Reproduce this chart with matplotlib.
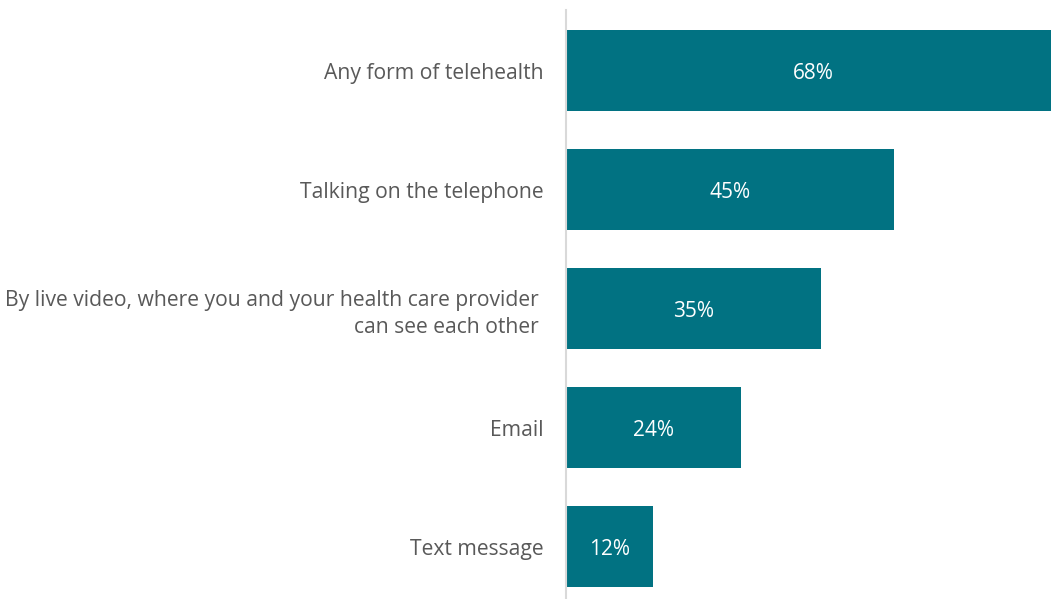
import matplotlib.pyplot as plt

plt.rcParams['font.family'] = ['Open Sans', 'DejaVu Sans']

# Share of respondents by telehealth mode
categories = [
    'Any form of telehealth',
    'Talking on the telephone',
    'By live video, where you and your health care provider \ncan see each other ',
    'Email',
    'Text message',
]
values = [68, 45, 35, 24, 12]

bar_color = '#017282'
text_color = '#595959'

fig = plt.figure(figsize=(10.51, 5.99), dpi=100)
ax = fig.add_axes([566 / 1051, 0, 1 - 566 / 1051, 1 - 10 / 599])

ypos = list(range(len(categories)))
bars = ax.barh(ypos, values, height=0.68, color=bar_color)

for y, v in zip(ypos, values):
    ax.text(v / 2, y, f'{v}%', ha='center', va='center_baseline',
            color='white', fontsize=15)

ax.set_yticks(ypos)
ax.set_yticklabels(categories, fontsize=15.2, color=text_color)
ax.tick_params(axis='y', length=0, pad=16)
ax.tick_params(axis='x', bottom=False, labelbottom=False)
for lbl in ax.get_yticklabels():
    lbl.set_multialignment('right')
    lbl.set_linespacing(1.35)

ax.set_xlim(0, 66.6)
ax.set_ylim(4.437, -0.508)

for side in ['top', 'right', 'bottom']:
    ax.spines[side].set_visible(False)
ax.spines['left'].set_color('#d9d9d9')
ax.spines['left'].set_linewidth(1.5)

fig.savefig('out.png', dpi=100)
